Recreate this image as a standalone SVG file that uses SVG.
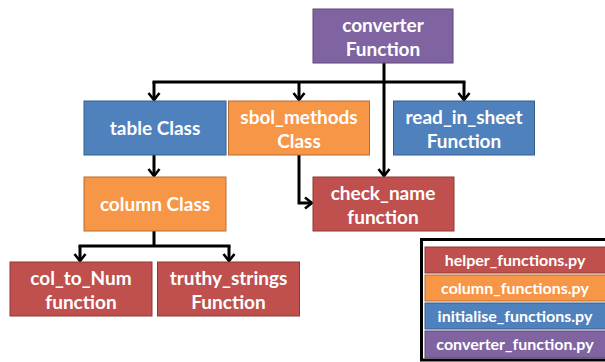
<svg xmlns="http://www.w3.org/2000/svg" width="605" height="362" viewBox="0 0 605 362">
<defs>
<style>
.t{font-family:Lato,"Liberation Sans",sans-serif;font-weight:bold;font-size:19px;fill:#fff;text-anchor:middle}
.l{font-family:Lato,"Liberation Sans",sans-serif;font-weight:bold;font-size:16px;fill:#fff;text-anchor:middle}
.pu{fill:#8064A2;stroke:#5C4776;stroke-width:1}
.bl{fill:#4F81BD;stroke:#385D8A;stroke-width:1}
.or{fill:#F79646;stroke:#B66D31;stroke-width:1}
.rd{fill:#C0504D;stroke:#8C3836;stroke-width:1}
.c{fill:none;stroke:#000;stroke-width:3}
</style>
<marker id="ah" viewBox="0 0 10 14" refX="8.5" refY="7" markerWidth="10" markerHeight="14" markerUnits="userSpaceOnUse" orient="auto">
<path d="M1.5,1.5 L8.5,7 L1.5,12.5" fill="none" stroke="#000" stroke-width="2.6"/>
</marker>
</defs>
<g id="connectors">
<path class="c" d="M384,63 V82"/>
<path class="c" d="M152.5,82 H465.5"/>
<path class="c" d="M154,82 V100" marker-end="url(#ah)"/>
<path class="c" d="M299,82 V100" marker-end="url(#ah)"/>
<path class="c" d="M464,82 V100" marker-end="url(#ah)"/>
<path class="c" d="M384,82 V176" marker-end="url(#ah)"/>
<path class="c" d="M154,155 V176" marker-end="url(#ah)"/>
<path class="c" d="M299,155 V203 H312" marker-end="url(#ah)"/>
<path class="c" d="M154,231 V246"/>
<path class="c" d="M78.5,246 H230.5"/>
<path class="c" d="M80,246 V261" marker-end="url(#ah)"/>
<path class="c" d="M229,246 V261" marker-end="url(#ah)"/>
</g>
<g id="converter">
<rect class="pu" x="313" y="9" width="140" height="54"/>
<text class="t" x="383" y="32">converter</text>
<text class="t" x="383" y="56">Function</text>
</g>
<g id="table">
<rect class="bl" x="84" y="101" width="142" height="54"/>
<text class="t" x="155" y="135">table Class</text>
</g>
<g id="sbol_methods">
<rect class="or" x="228.5" y="101" width="141" height="54"/>
<text class="t" x="299" y="124">sbol_methods</text>
<text class="t" x="299" y="148">Class</text>
</g>
<g id="read_in_sheet">
<rect class="bl" x="393.5" y="101" width="141" height="54"/>
<text class="t" x="464" y="124">read_in_sheet</text>
<text class="t" x="464" y="148">Function</text>
</g>
<g id="column">
<rect class="or" x="84" y="177" width="142" height="54"/>
<text class="t" x="155" y="211">column Class</text>
</g>
<g id="check_name">
<rect class="rd" x="313" y="177" width="141" height="54"/>
<text class="t" x="383" y="200">check_name</text>
<text class="t" x="383" y="224">function</text>
</g>
<g id="col_to_Num">
<rect class="rd" x="10" y="262" width="142" height="54"/>
<text class="t" x="81" y="285">col_to_Num</text>
<text class="t" x="81" y="309">function</text>
</g>
<g id="truthy_strings">
<rect class="rd" x="157.5" y="262" width="142" height="54"/>
<text class="t" x="228.5" y="285">truthy_strings</text>
<text class="t" x="228.5" y="309">Function</text>
</g>
<g id="legend">
<rect x="421.5" y="239.5" width="190" height="120.5" fill="#fff" stroke="#000" stroke-width="3"/>
<rect class="rd" x="425" y="247" width="182" height="26"/>
<text class="l" x="515" y="265.5">helper_functions.py</text>
<rect class="or" x="425" y="275" width="182" height="26"/>
<text class="l" x="515" y="293.5">column_functions.py</text>
<rect class="bl" x="425" y="303" width="182" height="26"/>
<text class="l" x="515" y="321.5">initialise_functions.py</text>
<rect class="pu" x="425" y="331" width="182" height="27"/>
<text class="l" x="515" y="350">converter_function.py</text>
</g>
</svg>
